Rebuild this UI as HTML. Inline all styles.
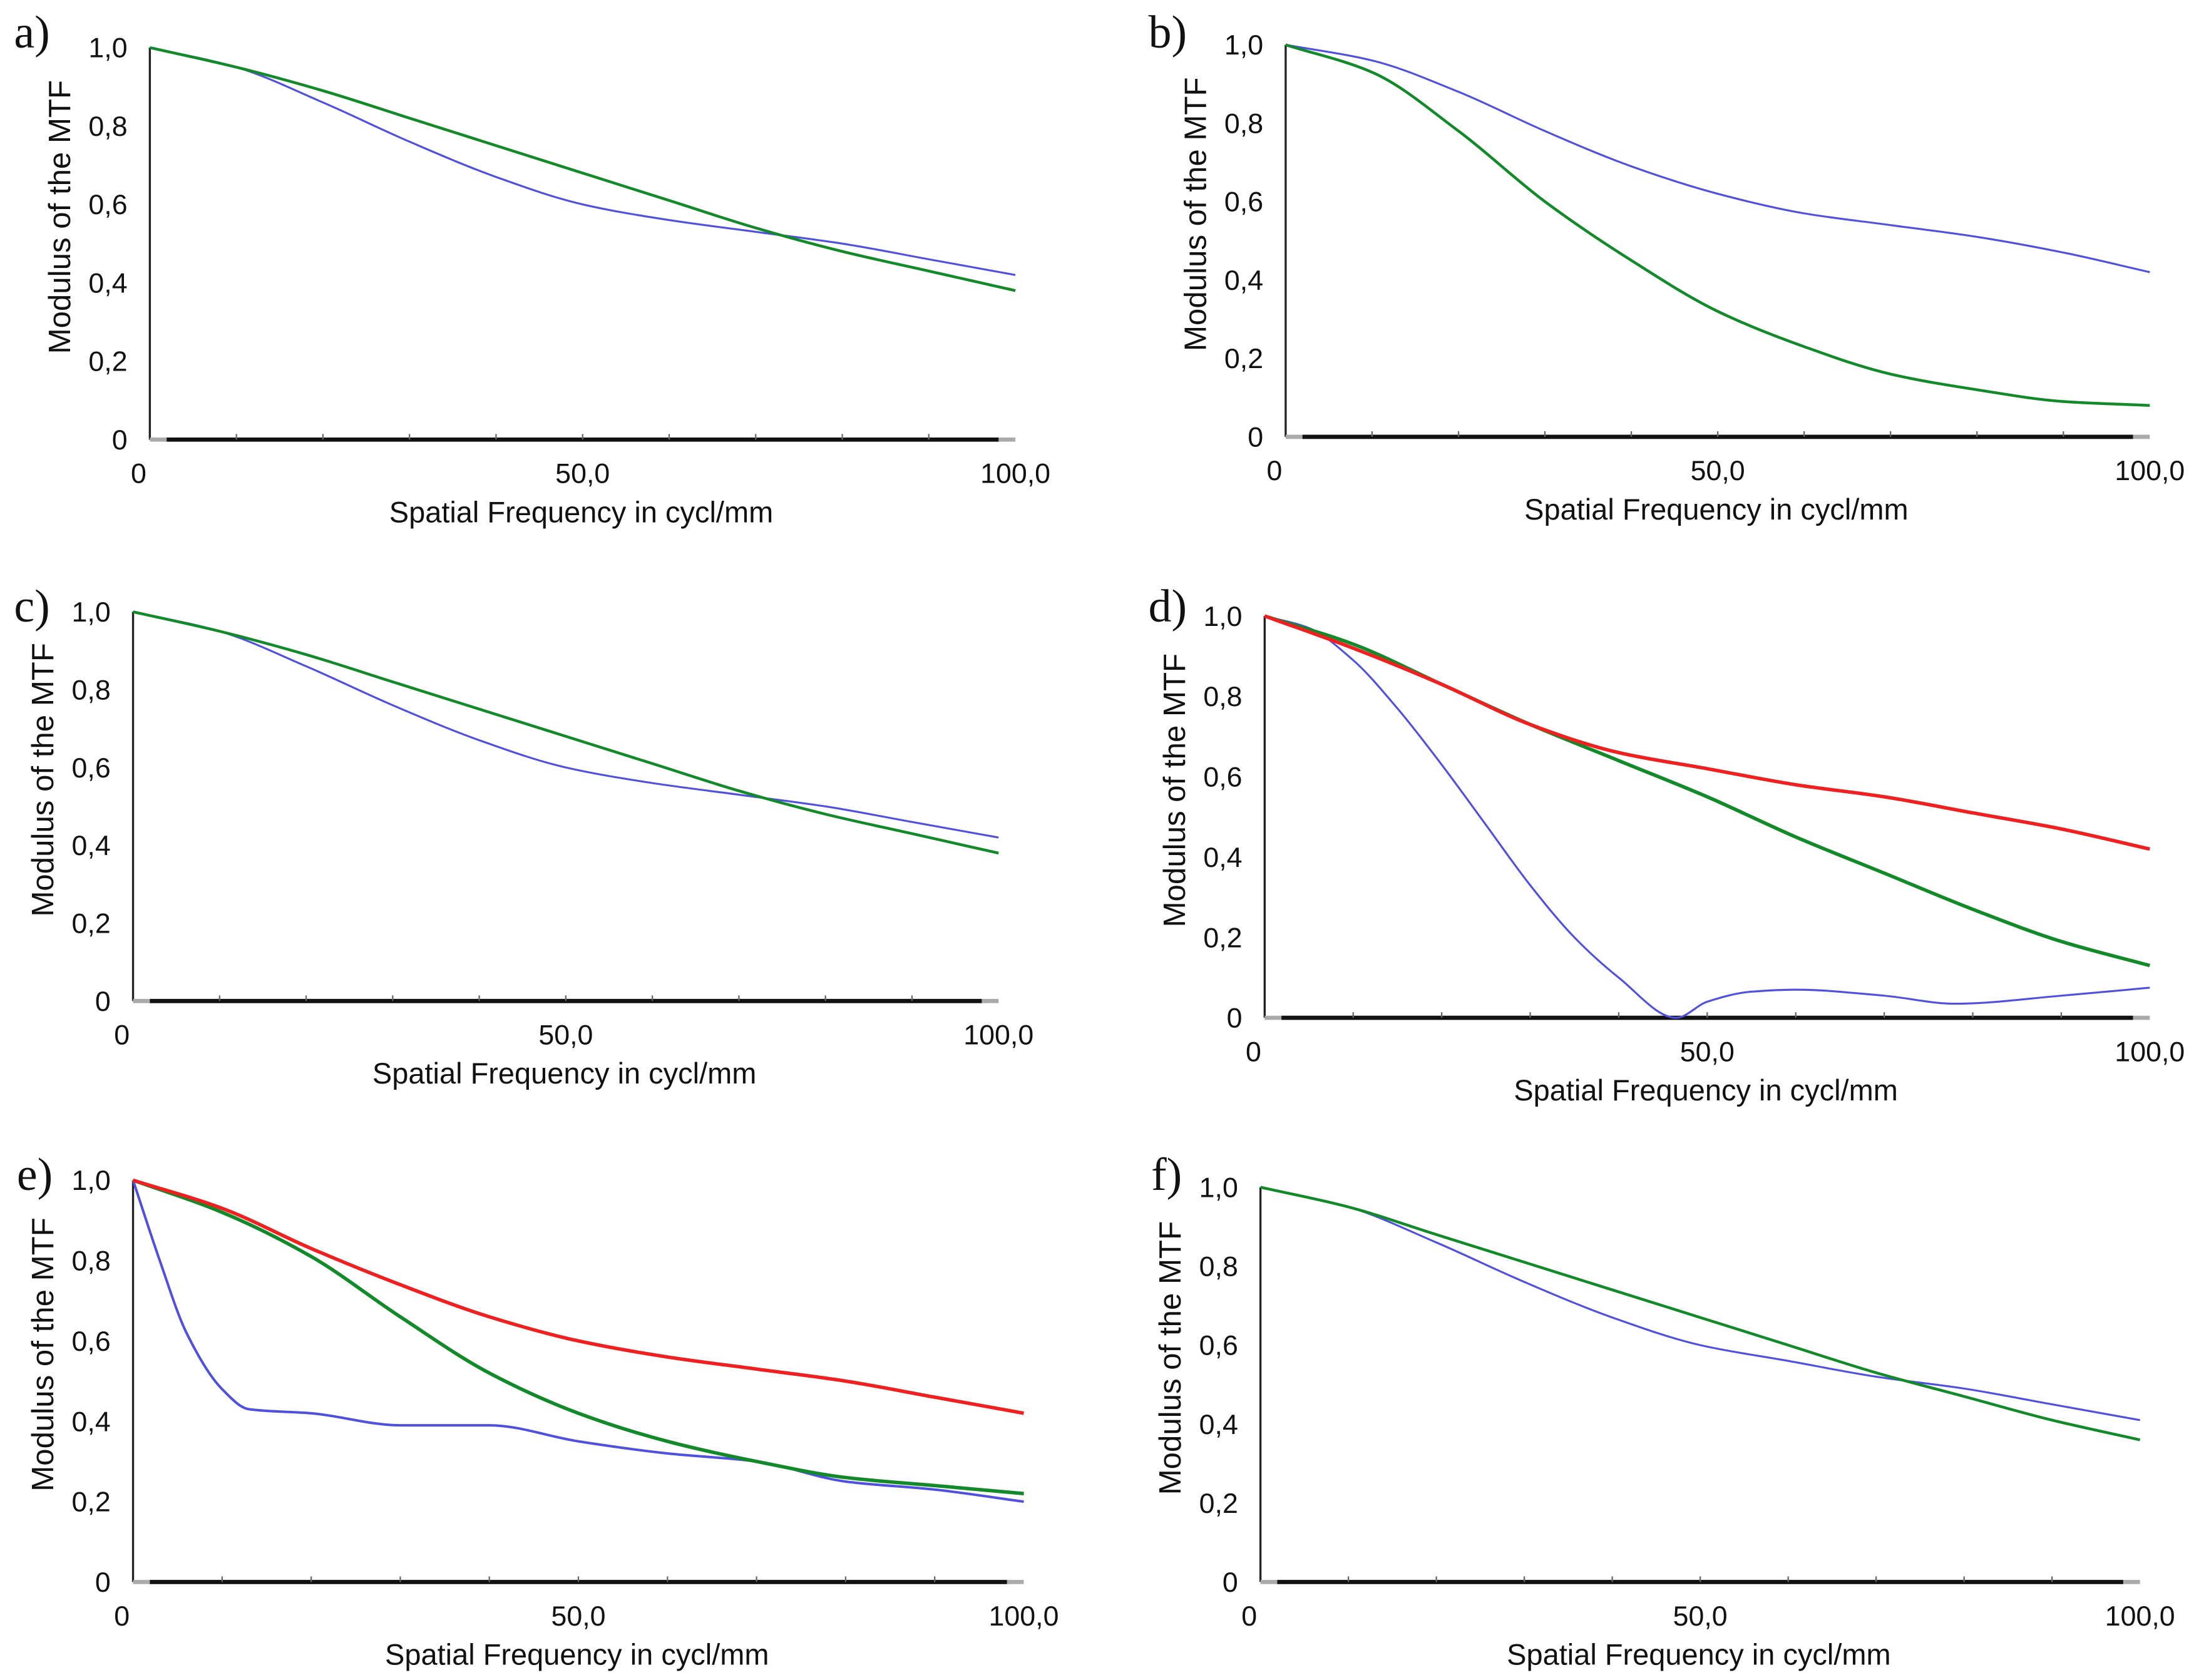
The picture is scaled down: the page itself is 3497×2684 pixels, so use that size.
<!DOCTYPE html>
<html><head><meta charset="utf-8"><style>
html,body{margin:0;padding:0;background:#fff;}
svg{display:block;}
text{font-family:"Liberation Sans",sans-serif;fill:#111;}
.pl{font-family:"Liberation Serif",serif;font-size:33px;}
</style></head><body>
<svg id="fig" width="3497" height="2684" viewBox="0 0 1563 1200" preserveAspectRatio="none" xmlns="http://www.w3.org/2000/svg"></svg>
<script>
// data: frequencies and MTF values per panel
const freq = [0,10,20,30,40,50,60,70,80,90,100];
const aBlue = [1.0,0.95,0.86,0.76,0.67,0.60,0.56,0.53,0.50,0.46,0.42];
const aGreen = [1.0,0.95,0.89,0.82,0.75,0.68,0.61,0.54,0.48,0.43,0.38];
const bBlue = [1.0,0.96,0.88,0.78,0.69,0.62,0.57,0.54,0.51,0.47,0.42];
const bGreen = [1.0,0.93,0.78,0.60,0.45,0.32,0.23,0.16,0.12,0.09,0.08];
const cBlue = [1.0,0.95,0.86,0.76,0.67,0.60,0.56,0.53,0.50,0.46,0.42];
const cGreen = [1.0,0.95,0.89,0.82,0.75,0.68,0.61,0.54,0.48,0.43,0.38];
const dRed = [1.0,0.92,0.83,0.73,0.66,0.62,0.58,0.55,0.51,0.47,0.42];
const dGreen = [1.0,0.93,0.83,0.73,0.64,0.55,0.45,0.36,0.27,0.19,0.13];
const dBlueFreq = [0,5,10,15,20,25,30,35,40,46.5,50,55,60,70,78,90,100];
const dBlue = [1.0,0.97,0.89,0.77,0.63,0.48,0.33,0.20,0.10,0.0,0.04,0.065,0.07,0.055,0.035,0.055,0.075];
const eRed = [1.0,0.93,0.83,0.74,0.66,0.60,0.56,0.53,0.50,0.46,0.42];
const eGreen = [1.0,0.92,0.81,0.66,0.52,0.42,0.35,0.30,0.26,0.24,0.22];
const eBlueFreq = [0,3,6,10,13,20,30,40,50,60,70,80,90,100];
const eBlue = [1.0,0.80,0.62,0.48,0.43,0.42,0.39,0.39,0.35,0.32,0.30,0.25,0.23,0.20];
const fBlue = [1.0,0.95,0.86,0.76,0.67,0.60,0.56,0.52,0.49,0.45,0.41];
const fGreen = [1.0,0.95,0.88,0.81,0.74,0.67,0.60,0.53,0.47,0.41,0.36];
const yTicks = [0,0.2,0.4,0.6,0.8,1.0];
const yTickLabels = ["0","0,2","0,4","0,6","0,8","1,0"];
const xTicks = [0,50,100];
const xTickLabels = ["0","50,0","100,0"];

const BLUE="#5050e0", GREEN="#138a2a", RED="#f02020";
const panels = [
 {id:"a",lx:10,ly:34,x0:107,x1:725,y1:34,y0:314,series:[[freq,aBlue,BLUE,1.4],[freq,aGreen,GREEN,2]]},
 {id:"b",lx:820,ly:34,x0:918,x1:1535,y1:32,y0:312,series:[[freq,bBlue,BLUE,1.4],[freq,bGreen,GREEN,2]]},
 {id:"c",lx:10,ly:444,x0:95,x1:713,y1:437,y0:715,series:[[freq,cBlue,BLUE,1.4],[freq,cGreen,GREEN,2]]},
 {id:"d",lx:820,ly:444,x0:903,x1:1535,y1:440,y0:727,series:[[dBlueFreq,dBlue,BLUE,1.4],[freq,dGreen,GREEN,2.5],[freq,dRed,RED,2.5]]},
 {id:"e",lx:12,ly:850,x0:95,x1:731,y1:843,y0:1130,series:[[eBlueFreq,eBlue,BLUE,1.8],[freq,eGreen,GREEN,2.5],[freq,eRed,RED,2.5]]},
 {id:"f",lx:822,ly:850,x0:900,x1:1528,y1:848,y0:1130,series:[[freq,fBlue,BLUE,1.4],[freq,fGreen,GREEN,2]]}
];
const NS="http://www.w3.org/2000/svg";
const svg=document.getElementById('fig');
function mk(tag,attrs,parent){const e=document.createElementNS(NS,tag);for(const k in attrs)e.setAttribute(k,attrs[k]);(parent||svg).appendChild(e);return e;}
// monotone cubic (Fritsch-Carlson) path
function smooth(pts){
 const n=pts.length,dx=[],m=[],t=[];
 for(let i=0;i<n-1;i++){dx[i]=pts[i+1][0]-pts[i][0];m[i]=(pts[i+1][1]-pts[i][1])/dx[i];}
 t[0]=m[0];t[n-1]=m[n-2];
 for(let i=1;i<n-1;i++){if(m[i-1]*m[i]<=0)t[i]=0;else{const w1=2*dx[i]+dx[i-1],w2=dx[i]+2*dx[i-1];t[i]=(w1+w2)/(w1/m[i-1]+w2/m[i]);}}
 let d="M"+pts[0][0]+","+pts[0][1];
 for(let i=0;i<n-1;i++){const h=dx[i]/3;d+=" C"+(pts[i][0]+h)+","+(pts[i][1]+t[i]*h)+" "+(pts[i+1][0]-h)+","+(pts[i+1][1]-t[i+1]*h)+" "+pts[i+1][0]+","+pts[i+1][1];}
 return d;}
panels.forEach(p=>{
 const g=mk('g',{});
 
 
 const xs=v=>p.x0+(p.x1-p.x0)*v/100, ys=v=>p.y0-(p.y0-p.y1)*v;
 const lab=mk('text',{x:p.lx,y:p.ly,class:'pl'},g);lab.textContent=p.id+")";
 
 
 const ya=mk('line',{x1:p.x0,y1:p.y1,x2:p.x0,y2:p.y0,stroke:'#222','stroke-width':1.5},g);
 
 
 mk('line',{x1:p.x0,y1:p.y0,x2:p.x1,y2:p.y0,stroke:'#aaa','stroke-width':3},g);
 const xa=mk('line',{x1:p.x0+12,y1:p.y0,x2:p.x1-12,y2:p.y0,stroke:'#111','stroke-width':3},g);
 
 
 for(let t=10;t<100;t+=10) mk('line',{x1:xs(t),y1:p.y0-4,x2:xs(t),y2:p.y0,stroke:'#666','stroke-width':1},g);
 yTicks.forEach((t,i)=>{const e=mk('text',{x:p.x0-16,y:ys(t)+7,'text-anchor':'end','font-size':20},g);e.textContent=yTickLabels[i];
  
  });
 xTicks.forEach((t,i)=>{const e=mk('text',{x:xs(t)-(t==0?8:0),y:p.y0+31,'text-anchor':'middle','font-size':20},g);e.textContent=xTickLabels[i];
  
  });
 const xt=mk('text',{x:(p.x0+p.x1)/2-1,y:p.y0+59,'text-anchor':'middle','font-size':21},g);xt.textContent="Spatial Frequency in cycl/mm";
 
 
 const cy=(p.y0+p.y1)/2-19, cx=p.x0-57;
 const yt=mk('text',{x:cx,y:cy,'text-anchor':'middle','font-size':22,transform:`rotate(-90 ${cx} ${cy})`},g);yt.textContent="Modulus of the MTF";
 
 
 p.series.forEach(s=>{const pts=s[0].map((f,i)=>[xs(f),ys(s[1][i])]);
  const path=mk('path',{d:smooth(pts),fill:'none',stroke:s[2],'stroke-width':s[3]},g);
  
  });
});
</script>
</body></html>
